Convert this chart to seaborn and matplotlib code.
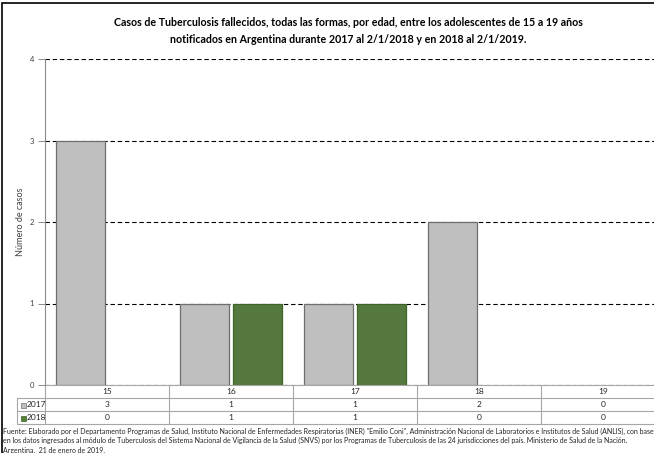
import numpy as np
import pandas as pd
import matplotlib
matplotlib.use("Agg")
import matplotlib.pyplot as plt
import seaborn as sns
from matplotlib.patches import Rectangle

# datos
edades = ["15", "16", "17", "18", "19"]
casos_2017 = [3, 1, 1, 2, 0]
casos_2018 = [0, 1, 1, 0, 0]
anios = ["2017", "2018"]

titulo = ("Casos de Tuberculosis fallecidos, todas las formas, por edad, entre los adolescentes de 15 a 19 años\n"
          "notificados en Argentina durante 2017 al 2/1/2018 y en 2018 al 2/1/2019.")
fuente = ("Fuente: Elaborado por el Departamento Programas de Salud, Instituto Nacional de Enfermedades Respiratorias (INER) \"Emilio Coni\", Administración Nacional de Laboratorios e Institutos de Salud (ANLIS), con base\n"
          "en los datos ingresados al módulo de Tuberculosis del Sistema Nacional de Vigilancia de la Salud (SNVS) por los Programas de Tuberculosis de las 24 jurisdicciones del país. Ministerio de Salud de la Nación.\n"
          "Argentina,  21 de enero de 2019.")

gris = "#bfbfbf"
verde = "#538135"
bordes = ["#6f6f6f", "#3f6427"]

df = pd.DataFrame({
    "edad": edades * 2,
    "casos": casos_2017 + casos_2018,
    "anio": [anios[0]] * 5 + [anios[1]] * 5,
})

sns.set_style("white")
plt.rcParams["font.family"] = ["Lato", "DejaVu Sans"]

W, H = 654, 453
fig = plt.figure(figsize=(W / 100, H / 100), dpi=100)
ax = fig.add_axes([45 / W, 68 / H, 620 / W, 326 / H])

sns.barplot(data=df, x="edad", y="casos", hue="anio", order=edades,
            palette=[gris, verde], width=0.85, gap=0.06, linewidth=0.9,
            legend=False, ax=ax)
for cont, ec in zip(ax.containers, bordes):
    for p in cont:
        p.set_edgecolor(ec)
        if p.get_height() == 0:
            p.set_visible(False)

ax.set_xlim(-0.5, 4.5)
ax.set_ylim(0, 4)
ax.set_yticks(range(5))
ax.yaxis.grid(True, linestyle=(0, (4, 2.5)), color="black", linewidth=0.8)
ax.set_axisbelow(True)
for s in ["top", "right", "bottom"]:
    ax.spines[s].set_visible(False)
ax.spines["left"].set_color("#8c8c8c")
ax.spines["left"].set_linewidth(0.8)
ax.tick_params(axis="y", left=True, length=5, width=0.7, color="#8c8c8c",
               labelsize=5.5, labelcolor="#404040", pad=3)
ax.tick_params(axis="x", bottom=False, labelbottom=False)
ax.set_xlabel("")
ax.set_ylabel("Número de casos", fontsize=6.5, color="#404040", labelpad=3)

# tabla de datos
tr = ax.transAxes
fila = 13 / 326
x_lab = -28 / 620
lc = "#a6a6a6"
for k in range(4):
    x0 = 0 if k == 0 else x_lab
    ax.plot([x0, 1], [-k * fila, -k * fila], transform=tr, color=lc, lw=0.8, clip_on=False)
for i in range(6):
    ax.plot([i / 5, i / 5], [0, -3 * fila], transform=tr, color=lc, lw=0.8, clip_on=False)
ax.plot([x_lab, x_lab], [-fila, -3 * fila], transform=tr, color=lc, lw=0.8, clip_on=False)

for i, e in enumerate(edades):
    ax.text((i + 0.5) / 5, -0.5 * fila, e, transform=tr, ha="center", va="center",
            fontsize=6, color="#262626")
for r, (serie, col, ec) in enumerate(zip([casos_2017, casos_2018], [gris, verde], bordes)):
    yc = -(r + 1.5) * fila
    ax.plot([x_lab + 6 / 620], [yc], marker="s", markersize=3.6, mfc=col, mec=ec,
            mew=0.5, transform=tr, clip_on=False)
    ax.text(x_lab + 10 / 620, yc, anios[r], transform=tr, ha="left", va="center",
            fontsize=6, color="#262626")
    for i, v in enumerate(serie):
        ax.text((i + 0.5) / 5, yc, str(v), transform=tr, ha="center", va="center",
                fontsize=6, color="#262626")

fig.text(348 / W, 1 - 31 / H, titulo, ha="center", va="center", fontsize=7.7,
         fontweight="bold", linespacing=1.7, color="black")
fig.text(3 / W, 1 - 428 / H, fuente, ha="left", va="top", fontsize=5.0,
         linespacing=1.35, color="#262626")

fig.patches.append(Rectangle((2 / W, -0.05), 1.1, 1.05 - 3 / H, transform=fig.transFigure,
                             fill=False, edgecolor="black", linewidth=1.2))

fig.savefig("out.png", dpi=100)
